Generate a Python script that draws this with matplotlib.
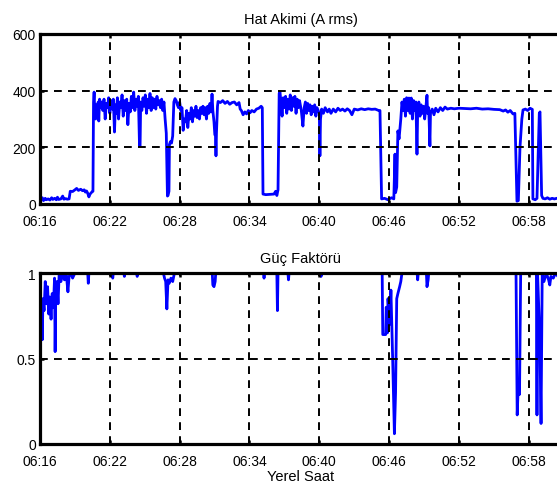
import matplotlib
matplotlib.use("Agg")
import matplotlib.pyplot as plt

# Time is in minutes after 06:16 (local time)
tick_minutes = [0, 6, 12, 18, 24, 30, 36, 42]
tick_labels = ["06:16", "06:22", "06:28", "06:34", "06:40", "06:46", "06:52", "06:58"]

# Line current (A rms)
current_t = [
    0.0, 0.1, 0.2, 0.3, 0.45, 0.55, 0.7, 0.85, 1.0, 1.1, 1.25, 1.4, 1.5, 1.6, 1.8, 1.95,
    2.05, 2.2, 2.35, 2.5, 2.6, 2.8, 3.0, 3.15, 3.3, 3.5, 3.65, 3.8, 3.9, 4.0, 4.1, 4.2,
    4.3, 4.45, 4.55, 4.6, 4.65, 4.7, 4.78, 4.85, 4.92, 5.0, 5.05, 5.12, 5.2, 5.3, 5.4, 5.5,
    5.6, 5.7, 5.8, 5.9, 6.0, 6.1, 6.2, 6.3, 6.4, 6.48, 6.55, 6.65, 6.75, 6.85, 6.95, 7.05,
    7.15, 7.25, 7.35, 7.45, 7.55, 7.65, 7.75, 7.85, 7.95, 8.05, 8.15, 8.25, 8.35, 8.45, 8.55, 8.6,
    8.65, 8.75, 8.85, 8.95, 9.05, 9.15, 9.25, 9.35, 9.45, 9.55, 9.65, 9.75, 9.85, 9.95, 10.05, 10.15,
    10.25, 10.35, 10.45, 10.55, 10.65, 10.75, 10.85, 10.95, 11.0, 11.08, 11.12, 11.2, 11.3, 11.4, 11.5, 11.6,
    11.7, 11.8, 11.9, 12.0, 12.1, 12.2, 12.3, 12.4, 12.5, 12.6, 12.7, 12.8, 12.9, 13.0, 13.1, 13.2,
    13.3, 13.4, 13.5, 13.6, 13.7, 13.8, 13.9, 14.0, 14.1, 14.2, 14.3, 14.4, 14.5, 14.6, 14.7, 14.78,
    14.85, 14.95, 15.02, 15.08, 15.12, 15.16, 15.25, 15.3, 15.5, 15.7, 15.9, 16.1, 16.3, 16.5, 16.7, 16.9,
    17.1, 17.2, 17.3, 17.45, 17.6, 17.75, 17.9, 18.05, 18.2, 18.4, 18.6, 18.8, 19.0, 19.1, 19.16, 19.4,
    19.8, 20.1, 20.25, 20.35, 20.45, 20.55, 20.62, 20.7, 20.8, 20.9, 21.0, 21.1, 21.2, 21.3, 21.4, 21.5,
    21.6, 21.7, 21.8, 21.9, 22.0, 22.1, 22.2, 22.3, 22.45, 22.59, 22.7, 22.8, 22.9, 23.0, 23.1, 23.2,
    23.3, 23.4, 23.5, 23.6, 23.7, 23.8, 23.9, 24.0, 24.05, 24.1, 24.2, 24.35, 24.5, 24.7, 24.85, 25.0,
    25.2, 25.4, 25.6, 25.8, 26.0, 26.2, 26.4, 26.6, 26.8, 27.0, 27.3, 27.6, 27.9, 28.2, 28.5, 28.8,
    29.1, 29.21, 29.35, 29.6, 29.9, 30.2, 30.4, 30.5, 30.55, 30.65, 30.75, 30.85, 31.0, 31.1, 31.2, 31.3,
    31.4, 31.5, 31.6, 31.7, 31.8, 31.9, 32.0, 32.1, 32.2, 32.3, 32.39, 32.45, 32.55, 32.65, 32.75, 32.85,
    32.95, 33.05, 33.15, 33.25, 33.3, 33.4, 33.5, 33.55, 33.7, 33.85, 34.0, 34.2, 34.4, 34.6, 34.8, 35.0,
    35.3, 35.6, 36.0, 36.5, 37.0, 37.5, 38.0, 38.5, 39.0, 39.5, 39.8, 40.0, 40.2, 40.4, 40.64, 40.8,
    40.98, 41.1, 41.24, 41.4, 41.5, 41.7, 41.9, 42.1, 42.3, 42.35, 42.55, 42.7, 42.9, 42.96, 43.1, 43.21,
    43.4, 43.6, 43.8, 44.0, 44.2, 44.5, 44.9,
]
current_a = [
    25, 18, 22, 12, 20, 15, 18, 14, 22, 16, 20, 15, 24, 16, 18, 28,
    17, 19, 17, 18, 45, 44, 50, 55, 48, 52, 47, 50, 42, 46, 38, 25,
    35, 42, 45, 360, 395, 330, 300, 350, 320, 360, 293, 370, 340, 360, 330, 370,
    300, 355, 340, 375, 320, 365, 335, 370, 254, 350, 320, 375, 300, 360, 340, 385,
    310, 365, 330, 370, 280, 355, 325, 380, 340, 395, 330, 370, 345, 380, 205, 205,
    360, 330, 375, 345, 385, 320, 370, 340, 390, 330, 375, 340, 370, 335, 380, 350,
    365, 340, 370, 330, 360, 300, 250, 28, 30, 45, 210, 220, 215, 240, 360, 372,
    365, 350, 340, 360, 330, 340, 260, 300, 290, 330, 270, 320, 300, 340, 290, 330,
    310, 345, 305, 330, 300, 340, 320, 345, 315, 340, 300, 345, 320, 355, 325, 388,
    330, 290, 245, 240, 170, 250, 345, 362, 358, 365, 355, 362, 352, 358, 360, 350,
    358, 335, 330, 315, 325, 318, 330, 322, 330, 325, 335, 338, 345, 340, 35, 33,
    34, 35, 45, 30, 50, 390, 395, 360, 310, 375, 340, 380, 320, 370, 335, 385,
    330, 375, 345, 380, 320, 370, 340, 365, 330, 275, 340, 360, 320, 355, 330, 350,
    315, 345, 325, 350, 310, 340, 330, 320, 170, 300, 335, 320, 340, 325, 335, 320,
    335, 325, 338, 330, 335, 328, 336, 330, 315, 335, 332, 336, 333, 336, 334, 335,
    330, 330, 18, 20, 15, 22, 18, 176, 40, 60, 258, 230, 300, 360, 330, 370,
    310, 375, 330, 374, 320, 374, 300, 365, 330, 360, 176, 330, 360, 310, 350, 320,
    345, 300, 340, 384, 320, 340, 205, 320, 335, 315, 338, 325, 340, 330, 342, 335,
    338, 336, 338, 337, 336, 338, 335, 336, 334, 333, 328, 332, 324, 330, 318, 320,
    10, 12, 200, 300, 332, 335, 330, 338, 334, 18, 15, 20, 320, 325, 30, 20,
    18, 22, 17, 20, 18, 21, 19,
]

# Power factor
pf_t = [
    0.0, 0.1, 0.2, 0.25, 0.35, 0.45, 0.55, 0.65, 0.75, 0.85, 0.95, 1.05, 1.15, 1.25, 1.3, 1.35,
    1.45, 1.55, 1.65, 1.8, 1.95, 2.1, 2.25, 2.4, 2.5, 2.65, 2.8, 3.0, 4.1, 4.15, 4.2, 6.2,
    6.25, 6.3, 7.2, 7.25, 7.3, 8.3, 8.35, 8.4, 10.6, 10.7, 10.8, 10.9, 11.0, 11.1, 11.25, 11.4,
    11.55, 14.8, 14.85, 14.95, 15.05, 15.1, 19.2, 19.25, 19.3, 20.35, 20.4, 20.45, 21.3, 21.35,
    21.4, 24.1, 24.15, 24.2, 29.4, 29.45, 29.7, 29.75, 29.85, 29.9, 30.05, 30.15, 30.3, 30.45,
    30.55, 30.65, 30.75, 30.9, 31.0, 31.1, 32.4, 32.45, 32.5, 33.2, 33.25, 33.35, 33.4, 40.9,
    41.0, 41.1, 41.2, 41.3, 41.5, 42.65, 42.7, 42.75, 42.95, 43.05, 43.15, 43.3, 43.5, 43.7,
    43.8, 43.9, 44.1, 44.3, 44.5, 44.9,
]
pf_val = [
    0.93, 0.80, 0.61, 0.85, 0.78, 0.95, 0.82, 0.92, 0.76, 0.86, 0.73, 0.88, 0.80, 0.97, 0.54, 0.85,
    0.95, 0.82, 1.0, 0.95, 1.0, 0.96, 1.0, 0.89, 0.98, 1.0, 0.97, 1.0, 1.0, 0.94, 1.0, 1.0,
    0.97, 1.0, 1.0, 0.98, 1.0, 1.0, 0.98, 1.0, 1.0, 0.97, 0.95, 0.79, 0.96, 0.94, 0.97, 0.95,
    1.0, 1.0, 0.93, 0.92, 0.95, 1.0, 1.0, 0.97, 1.0, 1.0, 0.78, 1.0, 1.0, 0.96,
    1.0, 1.0, 0.98, 1.0, 1.0, 0.64, 0.64, 0.80, 0.65, 0.85, 0.70, 0.90, 0.50, 0.06,
    0.30, 0.85, 0.88, 0.92, 0.95, 1.0, 1.0, 0.96, 1.0, 1.0, 0.92, 0.96, 1.0, 1.0,
    0.17, 0.35, 0.29, 1.0, 1.0, 1.0, 0.17, 1.0, 0.60, 0.12, 1.0, 0.95, 1.0, 0.96,
    0.93, 0.98, 0.97, 1.0, 0.98, 0.98,
]

plt.rcParams['font.family'] = ['Liberation Sans', 'DejaVu Sans']


def style_axes(ax, yticks, ylabels):
    """ MATLAB-like look: thick box, dashed black grid, inward ticks. """
    ax.set_xlim(0, 44.85)
    ax.set_xticks(tick_minutes)
    ax.set_xticklabels(tick_labels)
    ax.set_yticks(yticks)
    ax.set_yticklabels(ylabels)
    ax.set_ylim(yticks[0], yticks[-1])
    ax.grid(True, color='black', linestyle=(0, (4.0, 3.2)), linewidth=1.4)
    ax.set_axisbelow(False)
    for side in ax.spines.values():
        side.set_linewidth(2.3)
    ax.tick_params(direction='in', length=3, width=1.8, labelsize=10,
                   top=True, right=True)
    ax.tick_params(axis='x', pad=7)
    ax.tick_params(axis='y', pad=3)


def main():
    fig = plt.figure(figsize=(5.57, 4.89), dpi=100)
    ax1 = fig.add_axes([40 / 557, 284 / 489, 522 / 557, 170 / 489])
    ax2 = fig.add_axes([40 / 557, 44 / 489, 522 / 557, 171 / 489])

    ax1.plot(current_t, current_a, color='#0000ff', linewidth=2.0)
    style_axes(ax1, [0, 200, 400, 600], ["0", "200", "400", "600"])
    ax1.set_title("Hat Akimi (A rms)", fontsize=10.5, pad=8)

    ax2.plot(pf_t, pf_val, color='#0000ff', linewidth=2.0)
    style_axes(ax2, [0, 0.5, 1], ["0", "0.5", "1"])
    ax2.set_title("Güç Faktörü", fontsize=10.5, pad=8)
    ax2.set_xlabel("Yerel Saat", fontsize=10.5, labelpad=1)

    fig.savefig("out.png", dpi=100)
    plt.close(fig)


if __name__ == "__main__":
    main()
